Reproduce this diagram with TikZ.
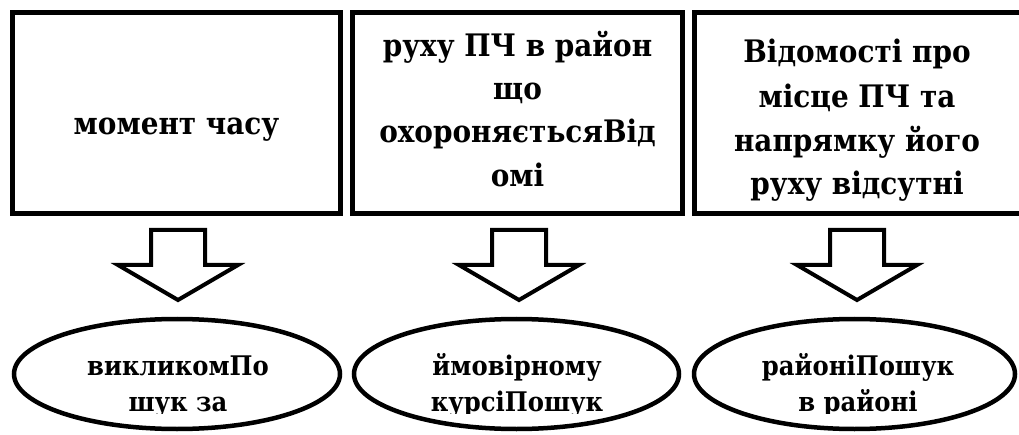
\documentclass[tikz,border=0pt]{standalone}
\usepackage{fontspec}
\newfontfamily\tnrbold{DejaVu Serif Condensed}[BoldFont={DejaVu Serif Condensed Bold}]
\usetikzlibrary{shapes.geometric}
\begin{document}
\begin{tikzpicture}[x=1pt,y=-1pt,
  box/.style={draw, line width=5pt, inner sep=0pt, minimum height=201pt},
  oval/.style={ellipse, draw, line width=4.5pt, inner sep=0pt, minimum height=110pt},
  boxtext/.style={anchor=base, inner sep=0pt, font=\tnrbold\bfseries\fontsize{31}{44}\selectfont},
  ovaltext/.style={anchor=base, inner sep=0pt, font=\tnrbold\bfseries\fontsize{27}{36}\selectfont},
  barrow/.style={draw, line width=4pt, line join=miter},
  blockarrow/.pic={\draw[barrow] (-27,0) -- (-27,35) -- (-60,35) -- (0,70) -- (60,35) -- (27,35) -- (27,0) -- cycle;}
]
\useasboundingbox (0,0) rectangle (1019,435);
\clip (0,0) rectangle (1019,435);

% top boxes
\node[box, minimum width=328pt] (b1) at (176.5,113) {};
\node[box, minimum width=330pt] (b2) at (517.5,113) {};
\node[box, minimum width=328pt] (b3) at (858.5,113) {};

\node[boxtext] (t11) at (176.5,135) {момент часу};

\node[boxtext] (t21) at (517.5,57) {руху ПЧ в район};
\node[boxtext] (t22) at (517.5,100) {що};
\node[boxtext] (t23) at (517.5,143) {охороняєтьсяВід};
\node[boxtext] (t24) at (517.5,187) {омі};

\node[boxtext] (t31) at (857,63) {Відомості про};
\node[boxtext] (t32) at (857,108) {місце ПЧ та};
\node[boxtext] (t33) at (857,152) {напрямку його};
\node[boxtext] (t34) at (857,195) {руху відсутні};

% block arrows
\pic at (178,230) {blockarrow};
\pic at (519,230) {blockarrow};
\pic at (857,230) {blockarrow};

% ellipses
\node[oval, minimum width=326pt] (e1) at (177,374) {};
\node[oval, minimum width=325pt] (e2) at (516.5,374) {};
\node[oval, minimum width=321pt] (e3) at (854.5,374) {};

\begin{scope}
\clip (0,0) rectangle (1019,413);
\node[ovaltext] (u11) at (178,375) {викликомПо};
\node[ovaltext] (u12) at (178,411) {шук за};
\node[ovaltext] (u21) at (517,375) {ймовірному};
\node[ovaltext] (u22) at (517,411) {курсіПошук};
\node[ovaltext] (u31) at (858,375) {районіПошук};
\node[ovaltext] (u32) at (858,411) {в районі};
\end{scope}
\end{tikzpicture}
\end{document}
